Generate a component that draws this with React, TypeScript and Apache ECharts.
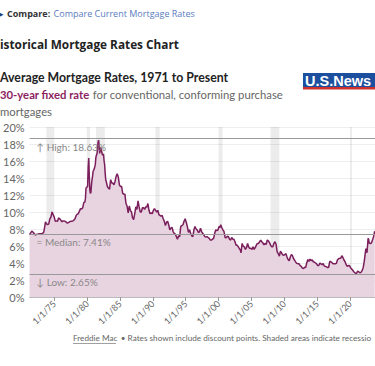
import React, { useEffect, useRef } from "react";
import * as echarts from "echarts";

const months: string[] = [
  "1971-04","1971-06","1971-08","1971-10","1971-12",
  "1972-02","1972-04","1972-06","1972-08","1972-10","1972-12",
  "1973-02","1973-04","1973-06","1973-08","1973-09","1973-11",
  "1974-01","1974-03","1974-05","1974-07","1974-09","1974-11",
  "1975-01","1975-03","1975-05","1975-07","1975-09","1975-11",
  "1976-01","1976-03","1976-05","1976-07","1976-09","1976-11",
  "1977-01","1977-03","1977-05","1977-07","1977-09","1977-11",
  "1978-01","1978-03","1978-05","1978-07","1978-09","1978-11",
  "1979-01","1979-03","1979-05","1979-07","1979-09","1979-10","1979-11","1979-12",
  "1980-01","1980-02","1980-03","1980-04","1980-05","1980-06","1980-07","1980-08","1980-09","1980-10","1980-11","1980-12",
  "1981-01","1981-02","1981-03","1981-04","1981-05","1981-06","1981-07","1981-08","1981-09","1981-10","1981-11","1981-12",
  "1982-01","1982-02","1982-03","1982-04","1982-05","1982-06","1982-07","1982-08","1982-09","1982-10","1982-11","1982-12",
  "1983-02","1983-04","1983-06","1983-08","1983-10","1983-12",
  "1984-02","1984-04","1984-06","1984-08","1984-10","1984-12",
  "1985-02","1985-04","1985-06","1985-08","1985-10","1985-12",
  "1986-02","1986-04","1986-06","1986-08","1986-10","1986-12",
  "1987-02","1987-04","1987-06","1987-08","1987-10","1987-12",
  "1988-02","1988-04","1988-06","1988-08","1988-10","1988-12",
  "1989-02","1989-04","1989-06","1989-08","1989-10","1989-12",
  "1990-02","1990-04","1990-06","1990-08","1990-10","1990-12",
  "1991-02","1991-04","1991-06","1991-08","1991-10","1991-12",
  "1992-02","1992-04","1992-06","1992-08","1992-10","1992-12",
  "1993-02","1993-04","1993-06","1993-08","1993-10","1993-12",
  "1994-02","1994-04","1994-06","1994-08","1994-10","1994-12",
  "1995-02","1995-04","1995-06","1995-08","1995-10","1995-12",
  "1996-02","1996-04","1996-06","1996-08","1996-10","1996-12",
  "1997-02","1997-04","1997-06","1997-08","1997-10","1997-12",
  "1998-02","1998-04","1998-06","1998-08","1998-10","1998-12",
  "1999-02","1999-04","1999-06","1999-08","1999-10","1999-12",
  "2000-02","2000-04","2000-05","2000-07","2000-09","2000-11",
  "2001-01","2001-03","2001-05","2001-07","2001-09","2001-11",
  "2002-01","2002-03","2002-05","2002-07","2002-09","2002-11",
  "2003-01","2003-03","2003-05","2003-06","2003-08","2003-10","2003-12",
  "2004-02","2004-04","2004-06","2004-08","2004-10","2004-12",
  "2005-02","2005-04","2005-06","2005-08","2005-10","2005-12",
  "2006-02","2006-04","2006-06","2006-08","2006-10","2006-12",
  "2007-02","2007-04","2007-06","2007-08","2007-10","2007-12",
  "2008-02","2008-04","2008-06","2008-08","2008-10","2008-12",
  "2009-02","2009-04","2009-06","2009-08","2009-10","2009-12",
  "2010-02","2010-04","2010-06","2010-08","2010-10","2010-12",
  "2011-02","2011-04","2011-06","2011-08","2011-10","2011-12",
  "2012-02","2012-04","2012-06","2012-08","2012-10","2012-12",
  "2013-02","2013-04","2013-06","2013-08","2013-10","2013-12",
  "2014-02","2014-04","2014-06","2014-08","2014-10","2014-12",
  "2015-02","2015-04","2015-06","2015-08","2015-10","2015-12",
  "2016-02","2016-04","2016-06","2016-08","2016-10","2016-12",
  "2017-02","2017-04","2017-06","2017-08","2017-10","2017-12",
  "2018-02","2018-04","2018-06","2018-08","2018-10","2018-12",
  "2019-02","2019-04","2019-06","2019-08","2019-10","2019-12",
  "2020-02","2020-04","2020-06","2020-08","2020-10","2020-12",
  "2021-01","2021-03","2021-05","2021-07","2021-09","2021-11",
  "2022-01","2022-03","2022-05","2022-06","2022-08","2022-10","2022-11","2022-12",
  "2023-02","2023-04","2023-06","2023-08","2023-10",
];

const rates: number[] = [
  7.33,7.55,7.75,7.65,7.5,
  7.3,7.35,7.38,7.4,7.43,7.45,
  7.45,7.5,7.65,8.4,8.85,8.6,
  8.5,8.6,9.2,9.4,10.0,9.7,
  9.4,8.9,8.95,8.9,9.3,9.2,
  9.05,8.85,8.95,8.95,8.9,8.8,
  8.7,8.75,8.85,8.9,8.9,8.95,
  9.05,9.2,9.6,9.75,9.8,10.1,
  10.4,10.35,10.5,11.1,11.2,11.6,12.8,12.9,
  12.9,13.0,15.3,16.35,14.3,12.6,12.2,12.3,13.2,13.8,14.2,14.8,
  14.9,15.1,15.3,15.6,16.4,16.7,16.8,17.3,18.2,18.45,17.8,16.9,
  17.4,17.6,17.2,17.0,16.7,16.7,16.8,16.0,15.6,14.6,13.8,13.6,
  13.0,12.8,12.7,13.8,13.4,13.4,
  13.2,13.6,14.2,14.5,14.1,13.2,
  13.0,13.0,12.2,12.1,12.1,11.0,
  10.7,9.9,10.7,10.2,10.0,9.3,
  9.1,9.8,10.6,10.3,11.3,10.6,
  10.0,10.0,10.5,10.5,10.3,10.6,
  10.6,11.0,10.2,9.8,9.9,9.8,
  10.2,10.4,10.2,10.0,10.2,9.7,
  9.6,9.5,9.6,9.2,8.9,8.4,
  8.8,8.9,8.5,7.9,8.1,8.2,
  7.7,7.5,7.4,7.1,6.8,7.2,
  7.1,8.3,8.4,8.5,8.9,9.2,
  8.8,8.3,7.6,7.9,7.5,7.2,
  7.1,7.9,8.3,8.0,7.9,7.6,
  7.65,8.1,7.7,7.5,7.3,7.1,
  7.05,7.1,7.0,6.9,6.7,6.7,
  6.8,6.9,7.5,7.9,7.8,7.9,
  8.3,8.2,8.5,8.15,7.9,7.7,
  7.0,6.95,7.15,7.1,6.8,6.7,
  7.0,6.8,6.8,6.5,6.1,6.1,
  5.9,5.7,5.5,5.2,6.3,6.0,5.9,
  5.6,5.8,6.3,5.9,5.7,5.75,
  5.6,5.9,5.6,5.8,6.1,6.3,
  6.3,6.5,6.7,6.5,6.35,6.15,
  6.3,6.2,6.7,6.6,6.4,6.1,
  5.9,5.9,6.3,6.5,6.2,5.3,
  5.1,4.8,5.4,5.2,4.95,4.9,
  5.0,5.1,4.7,4.4,4.25,4.7,
  5.0,4.85,4.5,4.3,4.1,3.95,
  3.9,3.9,3.7,3.6,3.4,3.35,
  3.5,3.45,4.0,4.4,4.2,4.45,
  4.3,4.35,4.15,4.1,4.0,3.9,
  3.7,3.7,4.0,3.9,3.8,3.95,
  3.65,3.6,3.55,3.45,3.5,4.2,
  4.15,4.05,3.9,3.9,3.9,3.95,
  4.35,4.5,4.55,4.55,4.85,4.65,
  4.35,4.15,3.8,3.6,3.7,3.7,
  3.45,3.3,3.15,2.95,2.85,2.7,
  2.65,3.05,2.95,2.85,2.9,3.1,
  3.45,4.2,5.25,5.7,5.2,6.9,6.8,6.35,
  6.3,6.35,6.7,7.1,7.75,
];

// Recession bands (decimal years)
const recessionStarts: number[] = [1973.8, 1979.95, 1981.35, 1990.4, 2000.0, 2007.9, 2020.0];
const recessionEnds: number[] = [1975.0, 1980.45, 1982.7, 1991.05, 2000.6, 2009.25, 2020.3];

const refLabels: string[] = ["↑ High: 18.63%", "= Median: 7.41%", "↓ Low: 2.65%"];
const refValues: number[] = [18.63, 7.41, 2.65];

const xTickYears: number[] = [1975, 1980, 1985, 1990, 1995, 2000, 2005, 2010, 2015, 2020];

const toYear = (m: string) => {
  const [y, mo] = m.split("-").map(Number);
  return y + (mo - 1) / 12;
};

export default function App() {
  const ref = useRef<HTMLDivElement>(null);
  useEffect(() => {
    if (!ref.current) return;
    const chart = echarts.init(ref.current, null, { renderer: "svg" });
    const body = "Lato";
    const head = "Open Sans";
    chart.setOption({
      animation: false,
      backgroundColor: "#ffffff",
      grid: { left: 24, right: 0, top: 127, bottom: 69, containLabel: false },
      xAxis: {
        type: "value",
        min: 1971.25,
        max: 2023.8,
        axisLine: { show: true, lineStyle: { color: "#bbbbbb" } },
        axisTick: { show: true, length: 4, customValues: xTickYears, lineStyle: { color: "#999999" } },
        axisLabel: {
          customValues: xTickYears,
          rotate: 45,
          margin: 5,
          fontSize: 9,
          color: "#666666",
          fontFamily: body,
          formatter: (v: number) => "1/1/" + String(v).slice(2),
        },
        splitLine: { show: false },
      },
      yAxis: {
        type: "value",
        min: 0,
        max: 20,
        interval: 2,
        axisLine: { show: false },
        axisTick: { show: false },
        axisLabel: { formatter: "{value}%", color: "#666666", fontSize: 11, margin: 5, fontFamily: body },
        splitLine: { lineStyle: { color: "#eeeeee" } },
      },
      series: [
        {
          type: "line",
          data: months.map((m, i) => [toYear(m), rates[i]]),
          showSymbol: false,
          symbol: "none",
          lineStyle: { color: "#7a1f5c", width: 1.5 },
          areaStyle: { color: "#e8d3e0", opacity: 1 },
          markArea: {
            silent: true,
            itemStyle: { color: "rgba(0,0,0,0.075)" },
            data: recessionStarts.map((s, i) => [{ xAxis: s }, { xAxis: recessionEnds[i] }]),
          },
          markLine: {
            silent: true,
            symbol: ["none", "none"],
            lineStyle: { color: "#999999", type: "solid", width: 1 },
            label: {
              position: "insideStartBottom",
              distance: [7, 3],
              color: "#888888",
              fontSize: 10,
              fontFamily: body,
            },
            data: refValues.map((v, i) => ({ yAxis: v, label: { formatter: refLabels[i] } })),
          },
        },
      ],
      graphic: [
        { type: "text", x: -1, y: 13, style: { text: "▸", fill: "#1d3f7a", fontSize: 9, fontFamily: head, verticalAlign: "middle" } },
        {
          type: "text", x: 7, y: 13,
          style: {
            text: "{b|Compare:} {c|Compare Current Mortgage Rates}",
            verticalAlign: "middle",
            rich: {
              b: { fontWeight: "bold", fontSize: 9, fontFamily: head, fill: "#333333" },
              c: { fontSize: 9, fontFamily: head, fill: "#5b7cc0" },
            },
          },
        },
        { type: "text", x: 0, y: 44, style: { text: "istorical Mortgage Rates Chart", fill: "#222222", fontSize: 11.8, fontWeight: "bold", fontFamily: head, verticalAlign: "middle" } },
        { type: "text", x: 0, y: 77, style: { text: "Average Mortgage Rates, 1971 to Present", fill: "#222222", fontSize: 12.3, fontWeight: "bold", fontFamily: body, verticalAlign: "middle" } },
        {
          type: "text", x: 0, y: 94,
          style: {
            text: "{b|30-year fixed rate} {c|for conventional, conforming purchase}",
            verticalAlign: "middle",
            rich: {
              b: { fontWeight: "bold", fontSize: 11.3, fontFamily: body, fill: "#8c1f62" },
              c: { fontSize: 11.3, fontFamily: body, fill: "#666666" },
            },
          },
        },
        { type: "text", x: 0, y: 111, style: { text: "mortgages", fill: "#666666", fontSize: 11.3, fontFamily: body, verticalAlign: "middle" } },
        { type: "rect", shape: { x: 303, y: 73, width: 80, height: 14 }, style: { fill: "#1c4f9e" } },
        { type: "rect", shape: { x: 303, y: 87, width: 80, height: 2.5 }, style: { fill: "#d0302b" } },
        { type: "text", x: 305, y: 80.5, style: { text: "U.S.News", fill: "#ffffff", fontSize: 14.5, fontWeight: "bold", fontFamily: "Liberation Sans", verticalAlign: "middle" } },
        {
          type: "text", x: 73, y: 338,
          style: {
            text: "{u|Freddie Mac} {c|• Rates shown include discount points. Shaded areas indicate recessio}",
            verticalAlign: "middle",
            rich: {
              u: { fontSize: 8.2, fontFamily: body, fill: "#666666" },
              c: { fontSize: 8.2, fontFamily: body, fill: "#666666" },
            },
          },
        },
        { type: "line", shape: { x1: 73, y1: 343.5, x2: 116, y2: 343.5 }, style: { stroke: "#888888", lineWidth: 0.8 } },
      ],
    });
    return () => chart.dispose();
  }, []);
  return (
    <div
      ref={ref}
      style={{ position: "fixed", left: 0, top: 0, width: 375, height: 366, background: "#ffffff" }}
    />
  );
}
